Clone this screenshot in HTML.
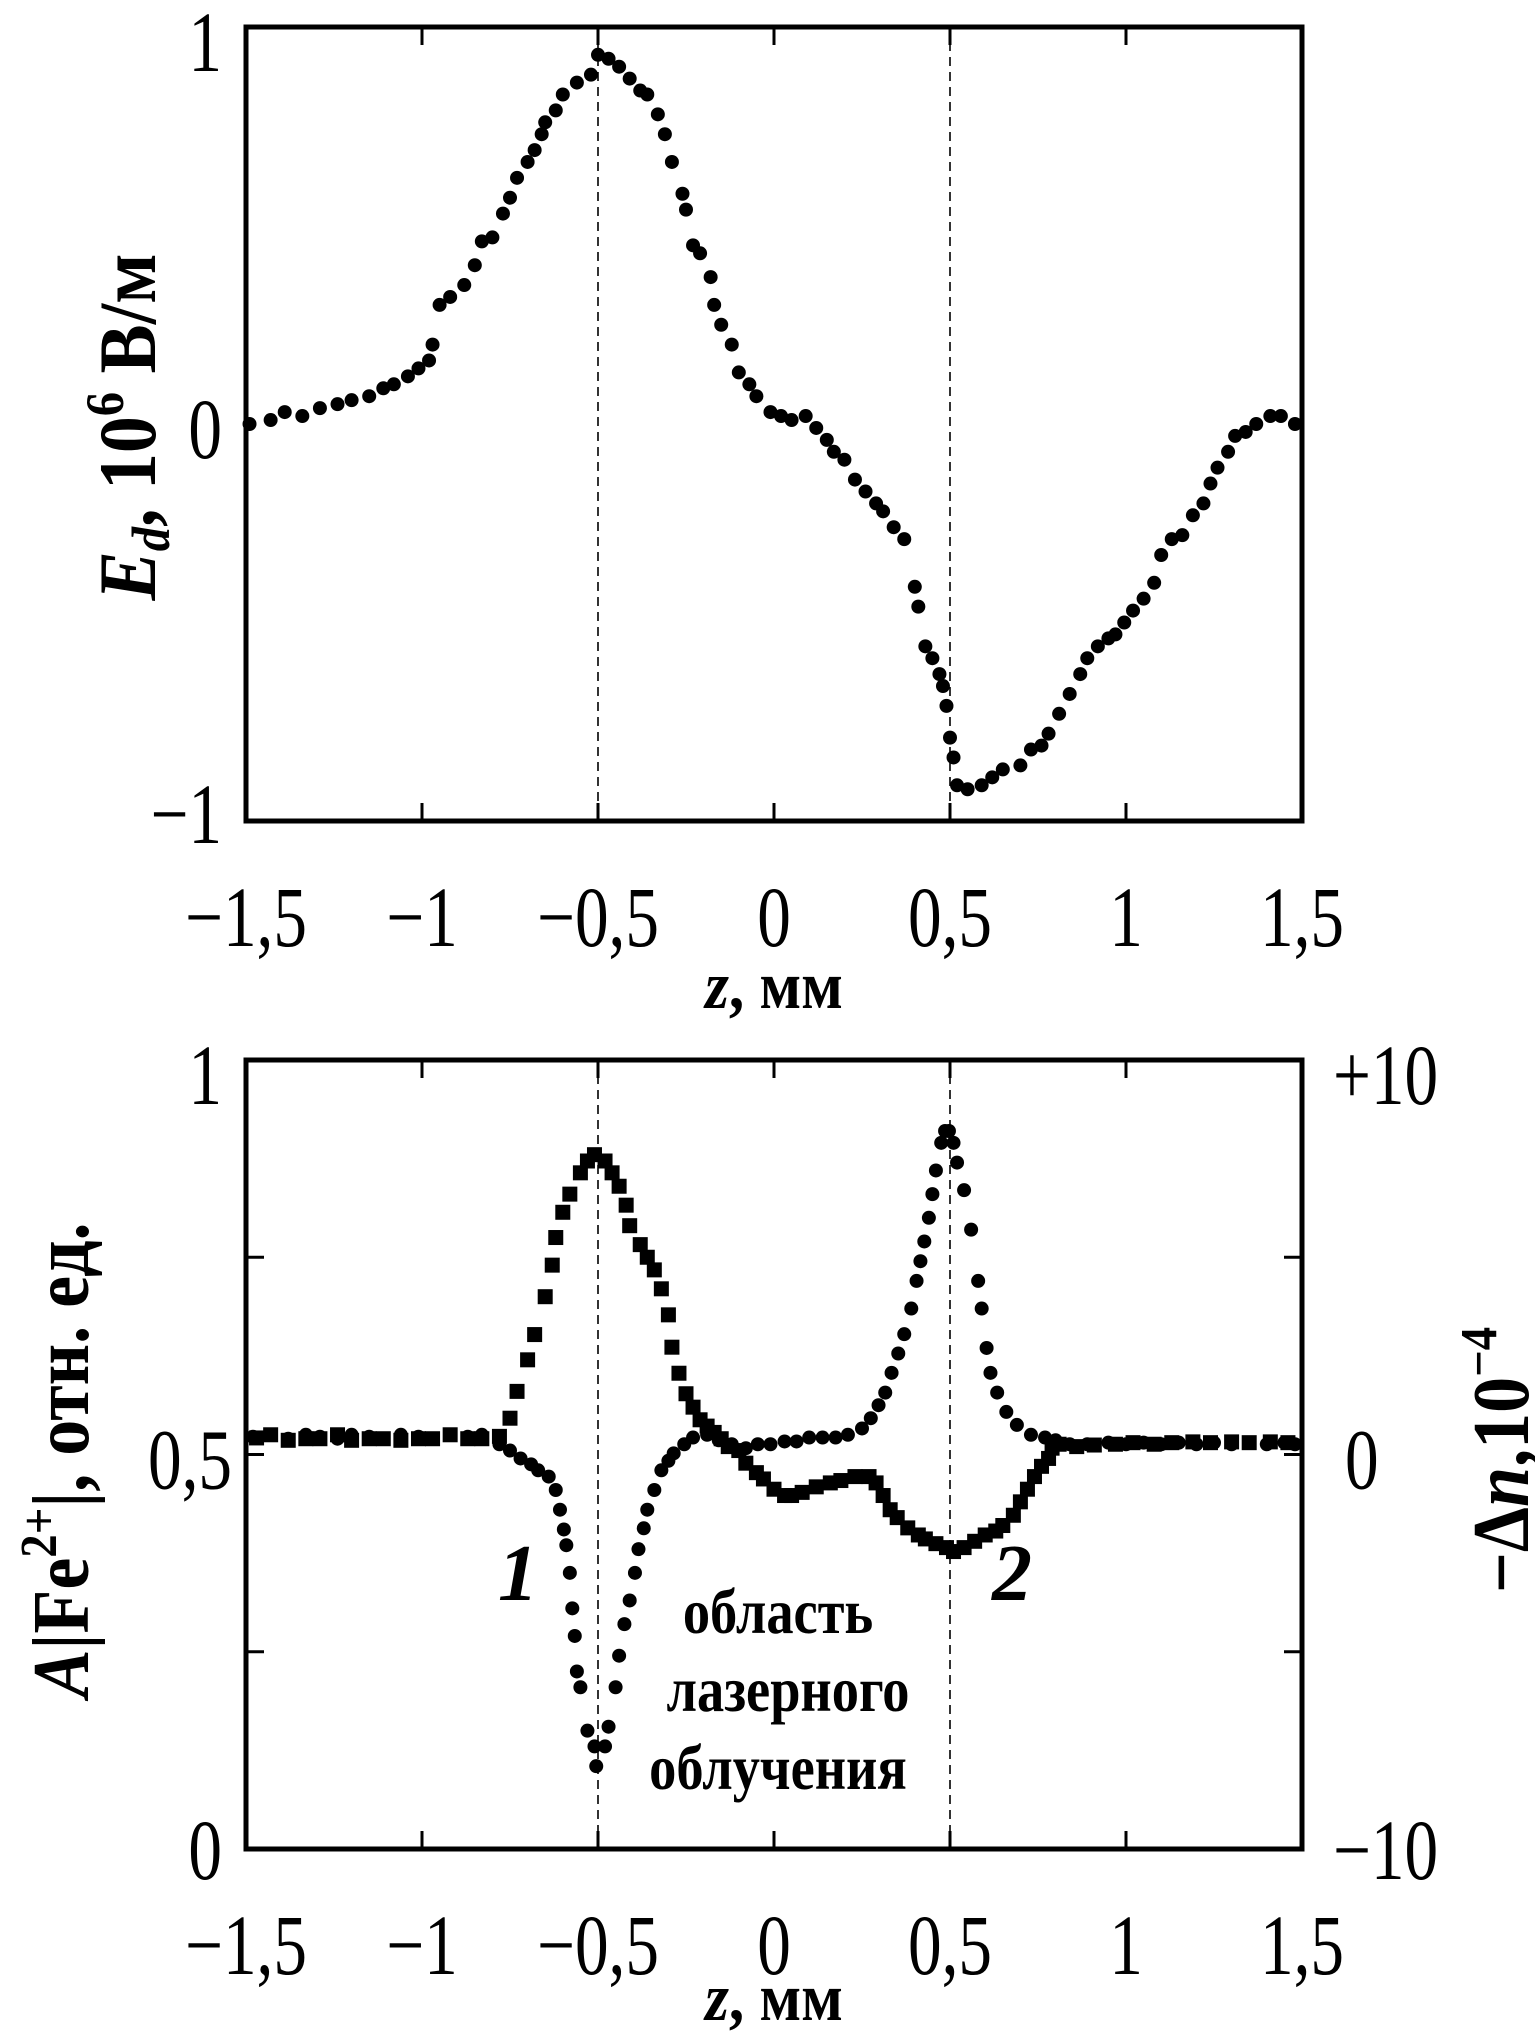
<!DOCTYPE html>
<html><head><meta charset="utf-8"><style>
html,body{margin:0;padding:0;background:#fff}
svg{display:block}
text{font-family:"Liberation Serif",serif;fill:#000}
</style></head><body>
<svg id="fig" width="1535" height="2031" viewBox="0 0 1535 2031">
<g id="top"></g>
<g id="bot"></g>
<text x="0" y="0" transform="translate(155,427) rotate(-90) scale(0.9,1)" text-anchor="middle" font-size="82" font-weight="bold"><tspan font-style="italic">E</tspan><tspan font-style="italic" font-size="54" dy="14">d</tspan><tspan dy="-14">, 10</tspan><tspan font-size="54" dy="-32">6</tspan><tspan dy="32"> В/м</tspan></text>
<text x="0" y="0" transform="translate(88,1460) rotate(-90) scale(0.9,1)" text-anchor="middle" font-size="80" font-weight="bold"><tspan font-style="italic">A</tspan>|Fe<tspan font-size="52" dy="-32">2+</tspan><tspan dy="32">|, отн. ед.</tspan></text>
<text x="0" y="0" transform="translate(1528,1460) rotate(-90) scale(0.9,1)" text-anchor="middle" font-size="80" font-weight="bold">−Δ<tspan font-style="italic">n</tspan>,10<tspan font-size="52" dy="-32">−4</tspan></text>
<text x="0" y="0" transform="translate(774,1008) scale(0.9,1)" text-anchor="middle" font-size="68" font-weight="bold"><tspan font-style="italic">z</tspan>, мм</text>
<text x="0" y="0" transform="translate(774,2020) scale(0.9,1)" text-anchor="middle" font-size="68" font-weight="bold"><tspan font-style="italic">z</tspan>, мм</text>
<text x="518" y="1600" text-anchor="middle" font-size="80" font-style="italic" font-weight="bold">1</text>
<text x="1012" y="1600" text-anchor="middle" font-size="80" font-style="italic" font-weight="bold">2</text>
<text x="0" y="0" transform="translate(778,1633) scale(0.85,1)" text-anchor="middle" font-size="64" font-weight="bold">область</text>
<text x="0" y="0" transform="translate(788,1711) scale(0.85,1)" text-anchor="middle" font-size="64" font-weight="bold">лазерного</text>
<text x="0" y="0" transform="translate(778,1789) scale(0.85,1)" text-anchor="middle" font-size="64" font-weight="bold">облучения</text>
</svg>
<script>
const topZ=[-1.49,-1.43,-1.39,-1.34,-1.29,-1.24,-1.20,-1.15,-1.11,-1.08,-1.04,-1.01,-0.98,-0.97,-0.95,-0.92,-0.88,-0.85,-0.83,-0.80,-0.77,-0.75,-0.73,-0.70,-0.68,-0.66,-0.65,-0.62,-0.60,-0.56,-0.52,-0.50,-0.47,-0.44,-0.41,-0.38,-0.36,-0.33,-0.31,-0.29,-0.26,-0.25,-0.23,-0.21,-0.18,-0.17,-0.15,-0.12,-0.10,-0.07,-0.05,-0.01,0.02,0.05,0.09,0.12,0.15,0.17,0.20,0.23,0.26,0.29,0.31,0.34,0.37,0.40,0.41,0.43,0.45,0.47,0.48,0.49,0.50,0.51,0.52,0.55,0.59,0.62,0.65,0.70,0.73,0.76,0.78,0.81,0.84,0.87,0.89,0.92,0.95,0.97,0.995,1.02,1.05,1.08,1.10,1.13,1.16,1.19,1.22,1.24,1.26,1.29,1.31,1.34,1.37,1.41,1.44,1.48];
const topE=[0,0.01,0.03,0.02,0.04,0.05,0.06,0.07,0.09,0.1,0.12,0.14,0.16,0.2,0.3,0.32,0.35,0.4,0.46,0.47,0.53,0.57,0.62,0.66,0.69,0.73,0.76,0.79,0.83,0.86,0.88,0.93,0.92,0.9,0.87,0.84,0.83,0.78,0.73,0.66,0.58,0.54,0.45,0.43,0.37,0.3,0.25,0.2,0.13,0.1,0.07,0.03,0.02,0.01,0.02,-0.01,-0.04,-0.07,-0.09,-0.14,-0.17,-0.2,-0.22,-0.26,-0.29,-0.41,-0.46,-0.56,-0.59,-0.63,-0.66,-0.71,-0.79,-0.84,-0.91,-0.92,-0.91,-0.89,-0.87,-0.86,-0.82,-0.81,-0.78,-0.73,-0.68,-0.63,-0.59,-0.56,-0.54,-0.53,-0.5,-0.47,-0.44,-0.4,-0.33,-0.29,-0.28,-0.23,-0.2,-0.15,-0.11,-0.07,-0.03,-0.02,0,0.02,0.02,0];
const sqZ=[-1.47,-1.43,-1.38,-1.33,-1.29,-1.24,-1.20,-1.15,-1.11,-1.06,-1.01,-0.97,-0.92,-0.87,-0.83,-0.78,-0.75,-0.73,-0.70,-0.68,-0.65,-0.63,-0.62,-0.60,-0.58,-0.55,-0.53,-0.51,-0.48,-0.46,-0.44,-0.42,-0.41,-0.38,-0.36,-0.34,-0.32,-0.30,-0.29,-0.27,-0.25,-0.23,-0.21,-0.19,-0.17,-0.15,-0.13,-0.10,-0.08,-0.05,-0.03,0.0,0.03,0.05,0.08,0.12,0.16,0.19,0.23,0.27,0.29,0.31,0.33,0.35,0.38,0.41,0.43,0.46,0.49,0.51,0.54,0.57,0.60,0.63,0.65,0.68,0.70,0.72,0.74,0.76,0.78,0.79,0.81,0.86,0.91,0.97,1.02,1.08,1.13,1.19,1.24,1.30,1.35,1.41,1.46];
const sqA=[0.521,0.525,0.518,0.52,0.52,0.525,0.518,0.52,0.52,0.518,0.52,0.52,0.525,0.52,0.52,0.523,0.546,0.58,0.62,0.652,0.70,0.74,0.775,0.807,0.83,0.857,0.872,0.88,0.872,0.857,0.84,0.816,0.79,0.766,0.75,0.734,0.71,0.677,0.636,0.603,0.577,0.56,0.544,0.536,0.528,0.52,0.51,0.505,0.489,0.477,0.469,0.456,0.448,0.448,0.452,0.459,0.464,0.467,0.472,0.472,0.464,0.448,0.43,0.42,0.407,0.398,0.393,0.387,0.382,0.377,0.382,0.39,0.398,0.403,0.41,0.423,0.44,0.456,0.472,0.485,0.495,0.508,0.513,0.51,0.512,0.513,0.515,0.513,0.515,0.516,0.515,0.516,0.515,0.516,0.515];
const dotZ=[-1.48,-1.43,-1.38,-1.33,-1.29,-1.24,-1.20,-1.15,-1.11,-1.06,-1.01,-0.97,-0.92,-0.87,-0.83,-0.78,-0.75,-0.72,-0.69,-0.67,-0.64,-0.62,-0.608,-0.597,-0.59,-0.58,-0.573,-0.566,-0.56,-0.55,-0.53,-0.51,-0.505,-0.48,-0.47,-0.45,-0.44,-0.425,-0.41,-0.395,-0.385,-0.37,-0.36,-0.34,-0.32,-0.30,-0.285,-0.255,-0.23,-0.19,-0.157,-0.12,-0.08,-0.046,-0.01,0.03,0.064,0.10,0.138,0.175,0.21,0.25,0.275,0.297,0.316,0.334,0.353,0.37,0.39,0.405,0.416,0.427,0.44,0.45,0.46,0.475,0.486,0.497,0.51,0.52,0.54,0.56,0.58,0.59,0.604,0.615,0.634,0.66,0.69,0.73,0.77,0.80,0.84,0.89,0.95,1.0,1.05,1.1,1.15,1.2,1.25,1.3,1.35,1.4,1.45,1.48];
const dotN=[0.45,0.5,0.4,0.5,0.45,0.4,0.5,0.45,0.4,0.5,0.45,0.4,0.5,0.45,0.5,0.26,0.1,-0.1,-0.25,-0.4,-0.56,-0.9,-1.4,-1.9,-2.3,-3.0,-3.9,-4.6,-5.5,-5.9,-7.0,-7.4,-7.9,-7.4,-6.9,-5.9,-5.1,-4.3,-3.7,-3.0,-2.4,-1.87,-1.4,-0.9,-0.4,-0.16,0.03,0.26,0.43,0.5,0.36,0.26,0.16,0.26,0.26,0.33,0.33,0.43,0.43,0.43,0.5,0.66,0.92,1.25,1.57,2.07,2.56,3.05,3.7,4.4,4.9,5.4,6.0,6.6,7.2,7.9,8.2,8.2,7.9,7.4,6.7,5.7,4.4,3.7,2.7,2.07,1.57,1.08,0.75,0.5,0.43,0.36,0.26,0.26,0.3,0.26,0.3,0.26,0.3,0.26,0.3,0.26,0.3,0.26,0.3,0.26];
const xTicks=[-1.5,-1,-0.5,0,0.5,1,1.5];
const xTickLabels=["−1,5","−1","−0,5","0","0,5","1","1,5"];
const topYTicks=[1,0,-1];
const topYLabels=["1","0","−1"];
const botYTicks=[0,0.25,0.5,0.75,1];
const botYLabels=["0","","0,5","","1"];
const rightTicks=[10,0,-10];
const rightLabels=["+10","0","−10"];

const NS="http://www.w3.org/2000/svg";
const L=246,R=1302;
function xs(z){return L+(z+1.5)/3*(R-L);}
function mk(parent,tag,attrs){const e=document.createElementNS(NS,tag);for(const k in attrs)e.setAttribute(k,attrs[k]);parent.appendChild(e);return e;}
function label(g,x,y,anchor,txt){
  const t=mk(g,'text',{x:0,y:0,transform:'translate('+x+','+y+') scale(0.82,1.05)','text-anchor':anchor,'font-size':82});
  t.textContent=txt;
  return t;
}

function frame(g,T,B,name){
  const r=mk(g,'rect',{x:L,y:T,width:R-L,height:B-T,fill:'none',stroke:'#000','stroke-width':5});
  
  
  xTicks.forEach((z,i)=>{
    const x=xs(z);
    if(i>0&&i<xTicks.length-1){
      const t1=mk(g,'line',{x1:x,y1:B,x2:x,y2:B-18,stroke:'#000','stroke-width':3});
      
      
      const t2=mk(g,'line',{x1:x,y1:T,x2:x,y2:T+18,stroke:'#000','stroke-width':3});
      
      
    }
    const tx=label(g,x,B+125,'middle',xTickLabels[i]);
    
    
  });
  [-0.5,0.5].forEach(z=>{
    const d=mk(g,'line',{x1:xs(z),y1:T,x2:xs(z),y2:B,stroke:'#000','stroke-width':1.6,'stroke-dasharray':'9,6'});
    
    
  });
}

// top chart
const gt=document.getElementById('top');
const tT=27,tB=821;
function yTop(v){return tT+(1-v)/2*(tB-tT);}
frame(gt,tT,tB,'top-plot-frame');
topYTicks.forEach((v,i)=>{
  const off=v===1?44:(v===-1?22:34);
  const t=label(gt,222,yTop(v)+off,'end',topYLabels[i]);
  
  
});
topZ.forEach((z,i)=>{
  const c=mk(gt,'circle',{cx:xs(z),cy:yTop(topE[i]),r:7,fill:'#000'});
  
  
});

// bottom chart
const gb=document.getElementById('bot');
const bT=1060,bB=1849;
function yA(v){return bB-v*(bB-bT);}
function yN(v){return yA(0.5+v/20);}
frame(gb,bT,bB,'bottom-plot-frame');
botYTicks.forEach((v,i)=>{
  if(v>0&&v<1){
    const a=mk(gb,'line',{x1:L,y1:yA(v),x2:L+18,y2:yA(v),stroke:'#000','stroke-width':3});
    
    
    const b=mk(gb,'line',{x1:R,y1:yA(v),x2:R-18,y2:yA(v),stroke:'#000','stroke-width':3});
    
    
  }
  if(botYLabels[i]){
    const off=v===1?44:(v===0?30:34);
    const t=label(gb,v===0.5?232:222,yA(v)+off,'end',botYLabels[i]);
    
    
  }
});
rightTicks.forEach((v,i)=>{
  const off=v===10?44:(v===-10?30:34);
  const t=label(gb,v===0?1345:1333,yN(v)+off,'start',rightLabels[i]);
  
  
});
sqZ.forEach((z,i)=>{
  const s=mk(gb,'rect',{x:xs(z)-7.5,y:yA(sqA[i])-7.5,width:15,height:15,fill:'#000'});
  
  
});
dotZ.forEach((z,i)=>{
  const c=mk(gb,'circle',{cx:xs(z),cy:yN(dotN[i]),r:7,fill:'#000'});
  
  
});
</script>
</body></html>
